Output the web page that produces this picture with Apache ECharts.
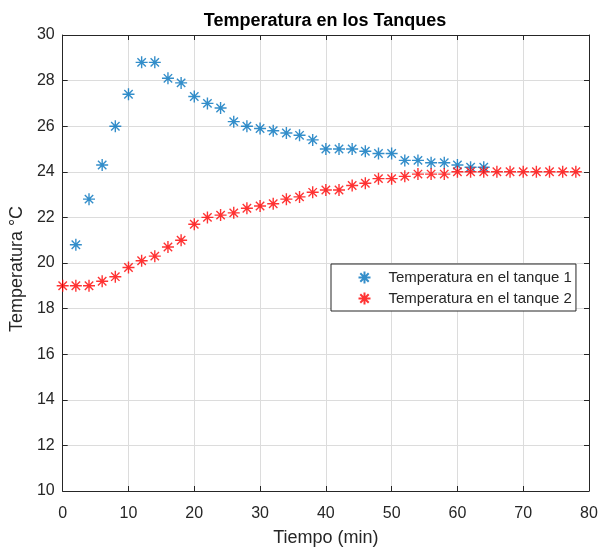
<!DOCTYPE html>
<html>
	<head>
		<meta charset="utf-8" />
		<title>Temperatura en los Tanques</title>
		<script type="text/javascript" src="https://cdn.jsdelivr.net/npm/echarts@6/dist/echarts.min.js"></script>
		<style>body{margin:0;background:#fff;}</style>
	</head>
	<body>
		<div id="main" style="width:601px; height:552px;"></div>
		<script>
			// tanque 1
			var tiempo1 = [2,4,6,8,10,12,14,16,18,20,22,24,26,28,30,32,34,36,38,40,42,44,46,48,50,52,54,56,58,60,62,64];
			var temp1   = [20.8,22.8,24.3,26.0,27.4,28.8,28.8,28.1,27.9,27.3,27.0,26.8,26.2,26.0,25.9,25.8,25.7,25.6,25.4,25.0,25.0,25.0,24.9,24.8,24.8,24.5,24.5,24.4,24.4,24.3,24.2,24.2];
			// tanque 2
			var tiempo2 = [0,2,4,6,8,10,12,14,16,18,20,22,24,26,28,30,32,34,36,38,40,42,44,46,48,50,52,54,56,58,60,62,64,66,68,70,72,74,76,78];
			var temp2   = [19.0,19.0,19.0,19.2,19.4,19.8,20.1,20.3,20.7,21.0,21.7,22.0,22.1,22.2,22.4,22.5,22.6,22.8,22.9,23.1,23.2,23.2,23.4,23.5,23.7,23.7,23.8,23.9,23.9,23.9,24.0,24.0,24.0,24.0,24.0,24.0,24.0,24.0,24.0,24.0];
			var xTicks = [0, 80, 10];
			var yTicks = [10, 30, 2];

			function pares(xs, ys) {
				var out = [];
				for (var i = 0; i < xs.length; i++) out.push([xs[i], ys[i]]);
				return out;
			}

			var asterisco = 'path://M6,0L6,12M0,6L12,6M1.8,1.8L10.2,10.2M10.2,1.8L1.8,10.2';
			var fuente = 'Liberation Sans';
			var gris = '#262626';

			function ejeX(pos, mostrar) {
				return {
					type: 'value', position: pos, min: xTicks[0], max: xTicks[1], interval: xTicks[2],
					name: mostrar ? 'Tiempo (min)' : '', nameLocation: 'middle', nameGap: 38,
					nameTextStyle: { color: gris, fontSize: 18, fontFamily: fuente },
					axisLine: { show: true, onZero: false, lineStyle: { color: gris, width: 1 } },
					axisTick: { show: true, inside: true, length: 5, lineStyle: { color: gris } },
					axisLabel: { show: mostrar, color: gris, fontSize: 16, fontFamily: fuente, margin: 15 },
					splitLine: { show: mostrar, lineStyle: { color: '#dcdcdc', width: 1 } }
				};
			}
			function ejeY(pos, mostrar) {
				return {
					type: 'value', position: pos, min: yTicks[0], max: yTicks[1], interval: yTicks[2],
					name: mostrar ? 'Temperatura °C' : '', nameLocation: 'middle', nameGap: 26,
					nameTextStyle: { color: gris, fontSize: 18, fontFamily: fuente, padding: [0, 12, 0, 0] },
					axisLine: { show: true, onZero: false, lineStyle: { color: gris, width: 1 } },
					axisTick: { show: true, inside: true, length: 5, lineStyle: { color: gris } },
					axisLabel: { show: mostrar, color: gris, fontSize: 16, fontFamily: fuente, margin: 8 },
					splitLine: { show: mostrar, lineStyle: { color: '#dcdcdc', width: 1 } }
				};
			}

			var chart = echarts.init(document.getElementById('main'));
			chart.setOption({
				animation: false,
				backgroundColor: '#fff',
				title: {
					text: 'Temperatura en los Tanques', left: 320, top: 7, textAlign: 'center',
					textStyle: { color: '#000', fontSize: 18, fontWeight: 'bold', fontFamily: fuente }
				},
				grid: { left: 61, top: 35, width: 528, height: 460 },
				xAxis: [ejeX('bottom', true), ejeX('top', false)],
				yAxis: [ejeY('left', true), ejeY('right', false)],
				legend: {
					orient: 'vertical', left: 331, top: 264,
					padding: [5, 4, 4, 25], itemGap: 4, itemWidth: 12, itemHeight: 12,
					backgroundColor: '#fff', borderColor: gris, borderWidth: 1, borderRadius: 0,
					textStyle: { color: gris, fontSize: 15, lineHeight: 16, fontFamily: fuente, padding: [0, 0, 0, 13] },
					data: ['Temperatura en el tanque 1', 'Temperatura en el tanque 2']
				},
				series: [
					{
						name: 'Temperatura en el tanque 1', type: 'scatter', symbol: asterisco, symbolSize: 12,
						itemStyle: { color: 'none', borderColor: '#0072BD', borderWidth: 1.4 },
						data: pares(tiempo1, temp1)
					},
					{
						name: 'Temperatura en el tanque 2', type: 'scatter', symbol: asterisco, symbolSize: 12,
						itemStyle: { color: 'none', borderColor: '#FF0000', borderWidth: 1.4 },
						data: pares(tiempo2, temp2)
					}
				]
			});
		</script>
	</body>
</html>
